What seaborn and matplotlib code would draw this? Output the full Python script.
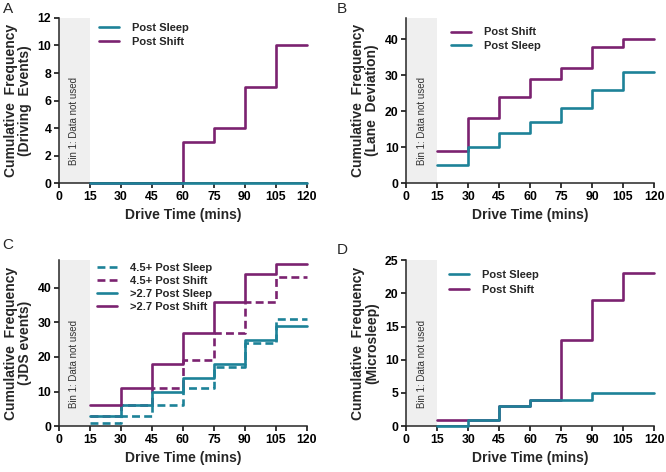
import matplotlib
matplotlib.use("Agg")
import matplotlib.pyplot as plt
import seaborn as sns

# Data -------------------------------------------------------------------------

drive_time = [15, 30, 45, 60, 75, 90, 105, 120]
time_ticks = [0, 15, 30, 45, 60, 75, 90, 105, 120]

# A: driving events
a_sleep = [0, 0, 0, 0, 0, 0, 0, 0]
a_shift = [0, 0, 0, 3, 4, 7, 10, 10]

# B: lane deviation
b_shift = [9, 18, 24, 29, 32, 38, 40, 40]
b_sleep = [5, 10, 14, 17, 21, 26, 31, 31]

# C: JDS events
c_45_sleep = [1, 3, 6, 11, 17, 24, 31, 31]
c_45_shift = [3, 6, 11, 19, 27, 36, 43, 43]
c_27_sleep = [3, 6, 10, 14, 18, 25, 29, 29]
c_27_shift = [6, 11, 18, 27, 36, 44, 47, 47]

# D: microsleep
d_sleep = [0, 1, 3, 4, 4, 5, 5, 5]
d_shift = [1, 1, 3, 4, 13, 19, 23, 23]

teal = "#1d8298"
purple = "#7b2270"

# Style ------------------------------------------------------------------------

sns.set_theme(style = "ticks")
plt.rcParams["font.family"] = ["Liberation Sans", "DejaVu Sans"]
plt.rcParams["axes.linewidth"] = 1.1

fig = plt.figure(figsize = (6.66, 4.72), dpi = 100)

def panel(rect, letter, letter_xy, ylabel, ymax, yticks, series, leg_anchor, labelspacing):
  ax = fig.add_axes(rect)
  ax.axvspan(0, 15, color = "#efefef", lw = 0, zorder = 0)
  ax.text(7.5, 0.375, "Bin 1: Data not used", rotation = 90, ha = "center", va = "center",
          fontsize = 7, color = "#333333", transform = ax.get_xaxis_transform())
  handles = {}
  for label, vals, color, dashed, z, _ in series:
    sns.lineplot(x = drive_time, y = vals, ax = ax, color = color, lw = 1.9,
                 drawstyle = "steps-post", clip_on = False, zorder = z,
                 linestyle = (0, (3, 1.6)) if dashed else "-")
    handles[label] = ax.lines[-1]
  order = [s[0] for s in sorted(series, key = lambda s: s[5])]
  ax.legend([handles[l] for l in order], order, loc = "upper left", bbox_to_anchor = leg_anchor,
            frameon = False, handlelength = 1.8, handletextpad = 1.15, borderpad = 0,
            labelspacing = labelspacing, prop = {"weight": "bold", "size": 8})
  ax.set_xlim(0, 120)
  ax.set_ylim(0, ymax)
  ax.set_xticks(time_ticks)
  ax.set_yticks(yticks)
  ax.tick_params(labelsize = 8.8, width = 1.1, length = 3.5, pad = 2, colors = "black")
  for t in ax.get_xticklabels() + ax.get_yticklabels():
    t.set_fontweight("bold")
  ax.set_xlabel("Drive Time (mins)", fontsize = 10, fontweight = "bold", labelpad = 4)
  ax.set_ylabel(ylabel, fontsize = 10, fontweight = "bold", labelpad = 4, linespacing = 1.0)
  sns.despine(ax = ax)
  fig.text(letter_xy[0], letter_xy[1], letter, fontsize = 11, va = "bottom", ha = "left")
  return ax

panel([0.0886, 0.612, 0.372, 0.350], "A", (0.004, 0.966),
      "Cumulative  Frequency\n(Driving  Events)", 12, [0, 2, 4, 6, 8, 10, 12],
      [("Post Shift", a_shift, purple, False, 2, 1),
       ("Post Sleep", a_sleep, teal, False, 3, 0)],
      (0.138, 1.002), 0.36)

panel([0.610, 0.612, 0.372, 0.350], "B", (0.506, 0.966),
      "Cumulative  Frequency\n(Lane  Deviation)", 46, [0, 10, 20, 30, 40],
      [("Post Shift", b_shift, purple, False, 2, 0),
       ("Post Sleep", b_sleep, teal, False, 3, 1)],
      (0.158, 0.976), 0.3)

panel([0.0886, 0.097, 0.372, 0.352], "C", (0.004, 0.466),
      "Cumulative  Frequency\n(JDS events)", 48, [0, 10, 20, 30, 40],
      [("4.5+ Post Shift", c_45_shift, purple, True, 2, 1),
       ("4.5+ Post Sleep", c_45_sleep, teal, True, 2, 0),
       (">2.7 Post Sleep", c_27_sleep, teal, False, 3, 2),
       (">2.7 Post Shift", c_27_shift, purple, False, 3, 3)],
      (0.132, 1.014), 0.26)

panel([0.610, 0.097, 0.372, 0.352], "D", (0.506, 0.456),
      "Cumulative  Frequency\n(Microsleep)", 25, [0, 5, 10, 15, 20, 25],
      [("Post Shift", d_shift, purple, False, 2, 1),
       ("Post Sleep", d_sleep, teal, False, 3, 0)],
      (0.150, 0.972), 0.38)

fig.savefig("out.png", dpi = 100)
